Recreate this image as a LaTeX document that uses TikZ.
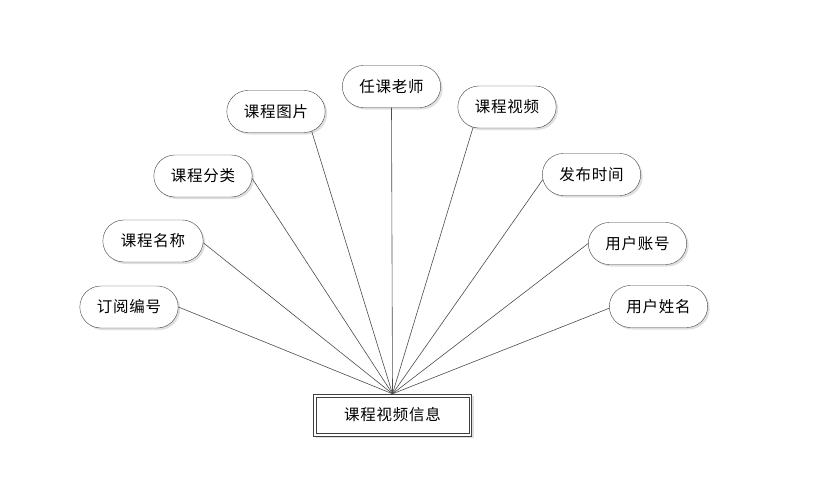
\documentclass[tikz,border=0pt]{standalone}
\usepackage{fontspec}
\newfontfamily\cjk{Noto Sans CJK SC}[LetterSpace=5]
\usetikzlibrary{shadows,shapes.misc}

\begin{document}
\begin{tikzpicture}[x=1pt,y=-1pt,
    every node/.style={font=\cjk\fontsize{15.5}{18}\selectfont},
    attr/.style={rounded rectangle,draw=black!75,minimum width=105pt,minimum height=42pt,
      fill=white,drop shadow={shadow xshift=2pt,shadow yshift=-2pt,fill=black!25,opacity=0.5}},
    entity/.style={draw=black!75,minimum width=158pt,minimum height=42pt,
      fill=white,drop shadow={shadow xshift=2pt,shadow yshift=-2pt,fill=black!25,opacity=0.5}}]
  \useasboundingbox (0,0) rectangle (823,501);
  % entity, double frame
  \node[entity] (info) at (392.5,415) {课程视频信息};
  \draw[black!75] ([shift={(3pt,-3pt)}]info.north west) rectangle ([shift={(-3pt,3pt)}]info.south east);
  % attributes, left to right
  \node[attr] (dyh) at (129,307) {订阅编号};
  \node[attr,minimum width=107pt] (kcmc) at (153,241) {课程名称};
  \node[attr] (kcfl) at (203,176) {课程分类};
  \node[attr] (kctp) at (276,111.5) {课程图片};
  \node[attr] (rkls) at (391.5,86.5) {任课老师};
  \node[attr] (kcsp) at (507,107) {课程视频};
  \node[attr] (fbsj) at (591.5,174.5) {发布时间};
  \node[attr] (yhzh) at (637.5,243.5) {用户账号};
  \node[attr] (yhxm) at (658.5,306.5) {用户姓名};
  % connectors to the entity (start angle on each attribute)
  \foreach \a/\ang in {dyh/0,kcmc/-2,kcfl/-3,kctp/-29,rkls/-90,kcsp/211,fbsj/186,yhzh/180,yhxm/182}
    \draw[black!70,line width=0.6pt] (\a.\ang) -- (info.north);
\end{tikzpicture}
\end{document}
